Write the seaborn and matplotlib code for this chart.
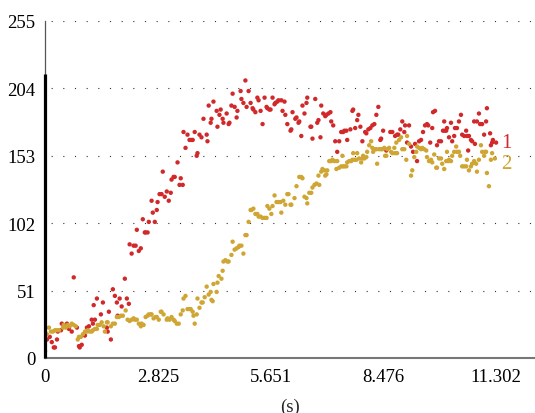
import numpy as np
import pandas as pd
import matplotlib
matplotlib.use("Agg")
import matplotlib.pyplot as plt
import seaborn as sns

# Series 1 (red): sample times in seconds and values
red_t = [0.00, 0.05, 0.12, 0.17, 0.22, 0.25, 0.30, 0.32, 0.40, 0.42,
         0.50, 0.55, 0.60, 0.67, 0.72, 0.80, 0.85, 0.87, 0.92, 1.00,
         1.05, 1.10, 1.17, 1.20, 1.22, 1.25, 1.30, 1.40, 1.45, 1.55,
         1.57, 1.60, 1.65, 1.70, 1.75, 1.80, 1.82, 1.87, 1.92, 2.00,
         2.05, 2.10, 2.12, 2.17, 2.22, 2.27, 2.30, 2.35, 2.40, 2.45,
         2.50, 2.52, 2.57, 2.60, 2.67, 2.70, 2.75, 2.80, 2.82, 2.87,
         2.92, 2.95, 3.00, 3.05, 3.10, 3.15, 3.17, 3.22, 3.25, 3.32,
         3.37, 3.40, 3.45, 3.47, 3.52, 3.57, 3.62, 3.67, 3.70, 3.75,
         3.80, 3.82, 3.87, 3.92, 3.97, 4.05, 4.07, 4.10, 4.15, 4.17,
         4.22, 4.30, 4.32, 4.37, 4.40, 4.45, 4.47, 4.55, 4.60, 4.62,
         4.67, 4.70, 4.75, 4.80, 4.82, 4.90, 4.92, 4.97, 5.02, 5.05,
         5.10, 5.15, 5.20, 5.22, 5.27, 5.32, 5.35, 5.40, 5.45, 5.50,
         5.55, 5.57, 5.62, 5.65, 5.70, 5.75, 5.77, 5.82, 5.85, 5.92,
         5.95, 6.00, 6.02, 6.07, 6.15, 6.17, 6.20, 6.27, 6.30, 6.35,
         6.37, 6.42, 6.45, 6.50, 6.55, 6.57, 6.65, 6.67, 6.70, 6.77,
         6.82, 6.85, 6.90, 6.92, 6.97, 7.02, 7.05, 7.10, 7.15, 7.17,
         7.22, 7.27, 7.32, 7.37, 7.42, 7.47, 7.50, 7.55, 7.57, 7.65,
         7.70, 7.72, 7.77, 7.82, 7.85, 7.90, 7.95, 8.02, 8.05, 8.10,
         8.15, 8.20, 8.25, 8.30, 8.35, 8.40, 8.42, 8.47, 8.55, 8.65,
         8.70, 8.77, 8.82, 8.85, 8.90, 8.95, 9.00, 9.02, 9.07, 9.12,
         9.17, 9.22, 9.27, 9.32, 9.37, 9.42, 9.47, 9.52, 9.57, 9.60,
         9.65, 9.70, 9.72, 9.77, 9.82, 9.87, 9.92, 9.97, 10.00, 10.02,
         10.05, 10.07, 10.12, 10.17, 10.20, 10.25, 10.27, 10.32, 10.37, 10.42,
         10.45, 10.50, 10.55, 10.57, 10.60, 10.62, 10.67, 10.70, 10.75, 10.77,
         10.82, 10.87, 10.90, 10.95, 11.00, 11.05, 11.07, 11.15, 11.17, 11.20,
         11.22, 11.30]
red_v = [5, 14, 16, 12, 8, 8, 14, 20, 21, 26,
         24, 26, 22, 20, 61, 23, 9, 8, 10, 17,
         23, 24, 29, 26, 40, 29, 45, 33, 42, 23,
         20, 35, 14, 52, 47, 42, 32, 45, 39, 60,
         45, 41, 86, 79, 85, 85, 97, 81, 83, 105,
         95, 95, 95, 103, 119, 110, 103, 112, 118, 124,
         124, 141, 122, 126, 119, 125, 135, 137, 137, 148,
         131, 136, 131, 171, 159, 169, 165, 165, 165, 171,
         153, 155, 169, 167, 181, 169, 164, 191, 178, 181,
         194, 187, 175, 184, 188, 181, 178, 185, 177, 178,
         191, 200, 190, 182, 187, 202, 196, 193, 210, 190,
         202, 193, 189, 188, 186, 197, 195, 187, 177, 197,
         190, 189, 188, 188, 197, 192, 193, 194, 195, 195,
         187, 194, 184, 177, 172, 173, 186, 181, 182, 178,
         179, 168, 191, 185, 193, 197, 175, 175, 166, 196,
         178, 180, 167, 191, 185, 183, 184, 185, 186, 179,
         176, 164, 156, 164, 171, 171, 172, 172, 165, 173,
         187, 188, 174, 180, 184, 175, 164, 171, 170, 173,
         174, 176, 177, 184, 190, 165, 166, 172, 157, 171,
         171, 168, 169, 169, 173, 179, 171, 176, 163, 176,
         160, 156, 162, 149, 164, 165, 171, 176, 177, 176,
         163, 174, 186, 187, 161, 164, 164, 172, 179, 172,
         172, 174, 167, 178, 164, 168, 174, 174, 179, 184,
         169, 168, 172, 168, 157, 168, 165, 164, 179, 162,
         179, 185, 177, 177, 169, 179, 189, 170, 161, 163,
         165, 163]

# Series 2 (gold): sample times in seconds and values
gold_t = [0.00, 0.02, 0.05, 0.10, 0.15, 0.20, 0.25, 0.30, 0.35, 0.45,
          0.47, 0.52, 0.57, 0.62, 0.67, 0.72, 0.77, 0.82, 0.85, 0.90,
          0.95, 1.00, 1.05, 1.07, 1.12, 1.17, 1.20, 1.25, 1.30, 1.32,
          1.37, 1.42, 1.47, 1.50, 1.55, 1.57, 1.65, 1.70, 1.75, 1.80,
          1.85, 1.90, 1.95, 2.02, 2.07, 2.12, 2.17, 2.22, 2.25, 2.30,
          2.35, 2.40, 2.42, 2.47, 2.52, 2.57, 2.60, 2.65, 2.67, 2.72,
          2.77, 2.80, 2.85, 2.90, 2.92, 2.97, 3.05, 3.07, 3.12, 3.17,
          3.22, 3.25, 3.30, 3.35, 3.40, 3.45, 3.47, 3.52, 3.57, 3.62,
          3.65, 3.70, 3.72, 3.75, 3.80, 3.82, 3.87, 3.92, 3.95, 4.00,
          4.05, 4.10, 4.15, 4.17, 4.20, 4.22, 4.30, 4.32, 4.35, 4.42,
          4.45, 4.47, 4.52, 4.57, 4.60, 4.67, 4.70, 4.75, 4.80, 4.85,
          4.87, 4.92, 4.97, 5.02, 5.05, 5.10, 5.15, 5.17, 5.22, 5.27,
          5.32, 5.35, 5.40, 5.45, 5.50, 5.55, 5.57, 5.62, 5.67, 5.70,
          5.75, 5.80, 5.85, 5.90, 5.92, 5.97, 6.02, 6.07, 6.10, 6.15,
          6.17, 6.25, 6.30, 6.37, 6.42, 6.45, 6.50, 6.55, 6.57, 6.62,
          6.67, 6.70, 6.75, 6.80, 6.85, 6.87, 6.92, 6.95, 7.00, 7.02,
          7.05, 7.07, 7.12, 7.17, 7.20, 7.25, 7.30, 7.32, 7.37, 7.42,
          7.45, 7.47, 7.50, 7.55, 7.57, 7.62, 7.67, 7.70, 7.72, 7.75,
          7.80, 7.82, 7.87, 7.92, 7.95, 7.97, 8.00, 8.05, 8.07, 8.12,
          8.17, 8.20, 8.22, 8.27, 8.30, 8.32, 8.37, 8.42, 8.45, 8.50,
          8.52, 8.55, 8.57, 8.62, 8.67, 8.70, 8.75, 8.77, 8.80, 8.82,
          8.87, 8.92, 8.95, 9.00, 9.05, 9.07, 9.12, 9.17, 9.20, 9.25,
          9.30, 9.32, 9.37, 9.42, 9.45, 9.50, 9.55, 9.57, 9.62, 9.67,
          9.70, 9.75, 9.80, 9.82, 9.87, 9.92, 9.95, 10.00, 10.05, 10.07,
          10.10, 10.12, 10.17, 10.20, 10.25, 10.30, 10.32, 10.37, 10.40, 10.45,
          10.50, 10.55, 10.57, 10.62, 10.67, 10.70, 10.75, 10.80, 10.82, 10.87,
          10.92, 10.95, 11.00, 11.02, 11.05, 11.07, 11.12, 11.17, 11.20, 11.27]
gold_v = [20, 23, 18, 23, 20, 20, 21, 21, 21, 23,
          25, 23, 25, 24, 26, 25, 24, 14, 16, 16,
          18, 20, 20, 21, 20, 20, 21, 22, 22, 25,
          25, 27, 24, 20, 27, 27, 24, 26, 26, 31,
          31, 32, 32, 36, 29, 28, 29, 30, 29, 29,
          26, 24, 26, 25, 31, 32, 33, 33, 33, 30,
          31, 31, 29, 35, 35, 33, 29, 30, 29, 31,
          29, 28, 26, 26, 33, 36, 45, 47, 37, 37,
          37, 35, 32, 26, 33, 45, 38, 42, 42, 46,
          54, 48, 50, 44, 43, 56, 50, 57, 62, 60,
          66, 73, 74, 73, 73, 78, 88, 82, 83, 84,
          85, 85, 79, 93, 93, 103, 112, 112, 113, 109,
          109, 107, 107, 106, 106, 106, 115, 113, 109, 115,
          123, 118, 118, 118, 110, 119, 116, 124, 124, 116,
          116, 121, 130, 137, 137, 136, 122, 121, 117, 125,
          125, 129, 131, 132, 138, 131, 141, 143, 142, 138,
          139, 142, 149, 149, 150, 149, 143, 149, 144, 145,
          153, 145, 145, 145, 148, 149, 149, 150, 155, 150,
          150, 155, 151, 148, 151, 153, 151, 152, 156, 161,
          164, 159, 156, 158, 158, 147, 158, 158, 158, 159,
          153, 153, 158, 159, 156, 155, 159, 155, 163, 155,
          165, 167, 158, 158, 150, 168, 162, 138, 142, 152,
          156, 160, 159, 158, 159, 158, 157, 152, 149, 150,
          148, 154, 144, 144, 151, 151, 147, 143, 149, 156,
          149, 150, 149, 153, 156, 160, 156, 156, 153, 145,
          145, 145, 150, 142, 145, 147, 149, 147, 141, 150,
          161, 156, 153, 156, 156, 140, 130, 150, 155, 151]

series_names = ["1", "2"]
series_colors = ["#d1292b", "#cfa533"]
label_y = [163, 147]

y_ticks = [0, 51, 102, 153, 204, 255]
x_ticks = [0, 2.825, 5.651, 8.476, 11.302]
x_tick_labels = ["0", "2.825", "5.651", "8.476", "11.302"]

df = pd.concat([
    pd.DataFrame({"t": red_t, "v": red_v, "series": series_names[0]}),
    pd.DataFrame({"t": gold_t, "v": gold_v, "series": series_names[1]}),
], ignore_index=True)

sns.set_style("white")
plt.rcParams["font.family"] = ["Liberation Serif", "DejaVu Serif"]

fig = plt.figure(figsize=(5.35, 4.14), dpi=100)
ax = fig.add_axes([45 / 535, 55 / 414, 490 / 535, 337 / 414])

sns.scatterplot(data=df, x="t", y="v", hue="series", hue_order=series_names,
                palette=series_colors, s=10, linewidth=0, legend=False, ax=ax,
                zorder=3)

ax.set_xlim(0, 490 / 39.92)
ax.set_ylim(0, 255)
ax.set_xticks(x_ticks)
ax.set_xticklabels(x_tick_labels)
ax.set_yticks(y_ticks)
ax.tick_params(axis="both", length=0, labelsize=13.5, colors="black")
ax.tick_params(axis="x", pad=7)
ax.tick_params(axis="y", pad=7)
ax.set_xlabel("(s)", fontsize=13.5, labelpad=9)
ax.set_ylabel("")

# dotted horizontal grid
ax.yaxis.grid(True, color="#333333", linewidth=0.8, linestyle=(5, (1, 9.5)))
ax.xaxis.grid(False)

for side in ("top", "right"):
    ax.spines[side].set_visible(False)
ax.spines["left"].set_color("#555555")
ax.spines["left"].set_linewidth(0.9)
ax.spines["bottom"].set_color("#777777")
ax.spines["bottom"].set_linewidth(1.5)

# heavy axis segment covering the data range
ax.plot([0, 0], [0, 215], color="black", linewidth=2.3, clip_on=False,
        solid_capstyle="butt", zorder=4)

for name, color, yv in zip(series_names, series_colors, label_y):
    ax.text(11.42, yv, name, color=color, fontsize=15, va="center", ha="left")

fig.savefig("out.png", dpi=100)
